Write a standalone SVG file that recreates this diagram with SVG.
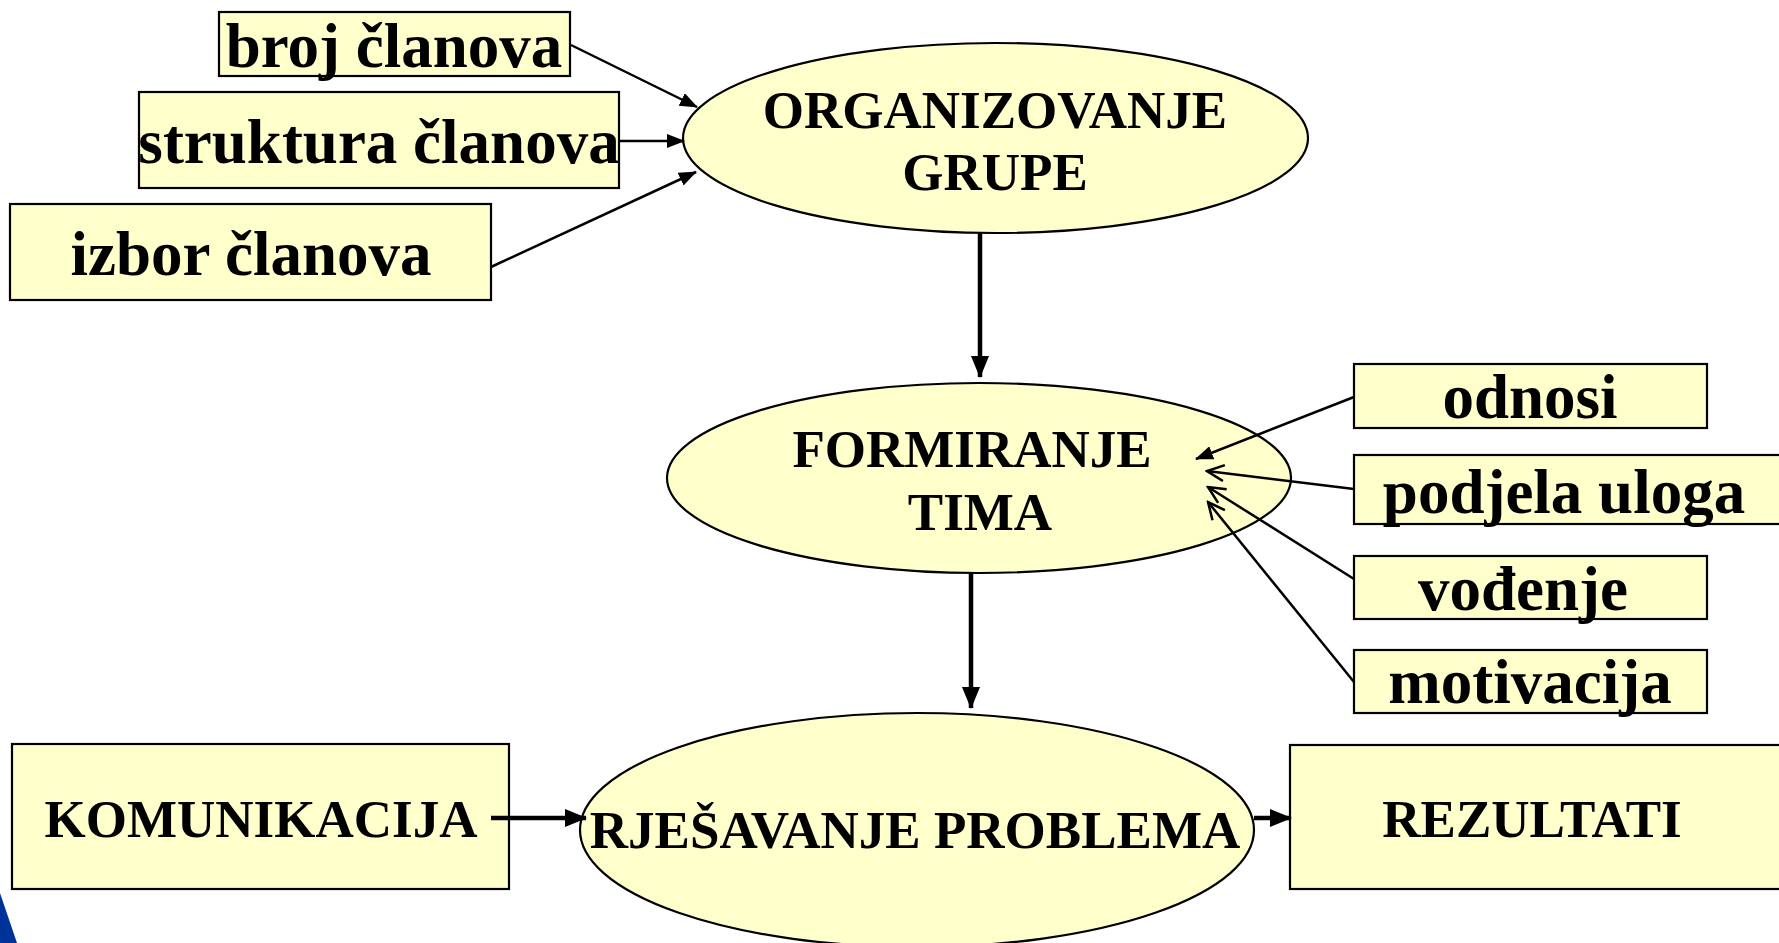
<svg xmlns="http://www.w3.org/2000/svg" width="1779" height="943" viewBox="0 0 1779 943">
<style>
.box{fill:#FFFFCC;stroke:#000;stroke-width:2.2}
.ell{fill:#FFFFCC;stroke:#000;stroke-width:2.2}
.t{font-family:"Liberation Serif","Times New Roman",serif;font-weight:bold;fill:#000;text-anchor:middle}
.big{font-size:63px}
.cap{font-size:53px}
.ln{stroke:#000;stroke-width:2.5;fill:none}
.thick{stroke:#000;stroke-width:4.5;fill:none}
</style>
<defs>
<marker id="fa" markerUnits="userSpaceOnUse" markerWidth="18" markerHeight="14" refX="17" refY="7" orient="auto">
<path d="M0,0 L18,7 L0,14 Z" fill="#000"/>
</marker>
<marker id="fb" markerUnits="userSpaceOnUse" markerWidth="22" markerHeight="18" refX="21" refY="9" orient="auto">
<path d="M0,0 L22,9 L0,18 Z" fill="#000"/>
</marker>
<marker id="oa" markerUnits="userSpaceOnUse" markerWidth="20" markerHeight="18" refX="18" refY="9" orient="auto">
<path d="M1,1 L18,9 L1,17" fill="none" stroke="#000" stroke-width="2.5"/>
</marker>
</defs>
<rect width="1779" height="943" fill="#fff"/>
<polygon points="0,893 17,943 0,943" fill="#003399"/>
<g id="broj"><rect class="box" x="219" y="12" width="351" height="64"/><text class="t big" x="394" y="67">broj članova</text></g>
<g id="struktura"><rect class="box" x="139" y="92" width="480" height="96"/><text class="t big" x="379" y="163">struktura članova</text></g>
<g id="izbor"><rect class="box" x="10" y="204" width="481" height="96"/><text class="t big" x="251" y="275">izbor članova</text></g>
<g id="organizovanje"><ellipse class="ell" cx="995.5" cy="138" rx="312.5" ry="95"/><text class="t cap" x="995" y="128">ORGANIZOVANJE</text><text class="t cap" x="995" y="190">GRUPE</text></g>
<g id="formiranje"><ellipse class="ell" cx="979" cy="478" rx="312" ry="95"/><text class="t cap" x="972" y="467">FORMIRANJE</text><text class="t cap" x="980" y="530">TIMA</text></g>
<g id="odnosi"><rect class="box" x="1354" y="364" width="353" height="64"/><text class="t big" x="1530" y="418">odnosi</text></g>
<g id="podjela"><rect class="box" x="1354" y="455" width="427" height="69"/><text class="t big" x="1564" y="513">podjela uloga</text></g>
<g id="vodjenje"><rect class="box" x="1354" y="556" width="353" height="63"/><text class="t big" x="1523" y="610">vođenje</text></g>
<g id="motivacija"><rect class="box" x="1354" y="650" width="353" height="63"/><text class="t big" x="1530" y="703">motivacija</text></g>
<g id="komunikacija"><rect class="box" x="12" y="744" width="497" height="145"/><text class="t cap" x="261" y="837">KOMUNIKACIJA</text></g>
<g id="rjesavanje"><ellipse class="ell" cx="917" cy="830" rx="337" ry="117"/><text class="t cap" x="915" y="848">RJEŠAVANJE PROBLEMA</text></g>
<g id="rezultati"><rect class="box" x="1290" y="745" width="491" height="144"/><text class="t cap" x="1532" y="837">REZULTATI</text></g>
<g id="connectors">
<line class="ln" x1="571" y1="45" x2="697" y2="107" marker-end="url(#fa)"/>
<line class="ln" x1="620" y1="141" x2="684" y2="141" marker-end="url(#fa)"/>
<line class="ln" x1="491" y1="267" x2="696" y2="172" marker-end="url(#fa)"/>
<line class="thick" x1="980" y1="233" x2="980" y2="377" marker-end="url(#fb)"/>
<line class="thick" x1="971" y1="573" x2="971" y2="708" marker-end="url(#fb)"/>
<line class="ln" x1="1354" y1="397" x2="1196" y2="459" marker-end="url(#fa)"/>
<line class="ln" x1="1354" y1="489" x2="1207" y2="471" marker-end="url(#oa)"/>
<line class="ln" x1="1354" y1="579" x2="1208" y2="487" marker-end="url(#oa)"/>
<line class="ln" x1="1354" y1="682" x2="1208" y2="502" marker-end="url(#oa)"/>
<line class="thick" x1="491" y1="818" x2="586" y2="818" marker-end="url(#fb)"/>
<line class="thick" x1="1254" y1="818" x2="1291" y2="818" marker-end="url(#fb)"/>
</g>
</svg>
